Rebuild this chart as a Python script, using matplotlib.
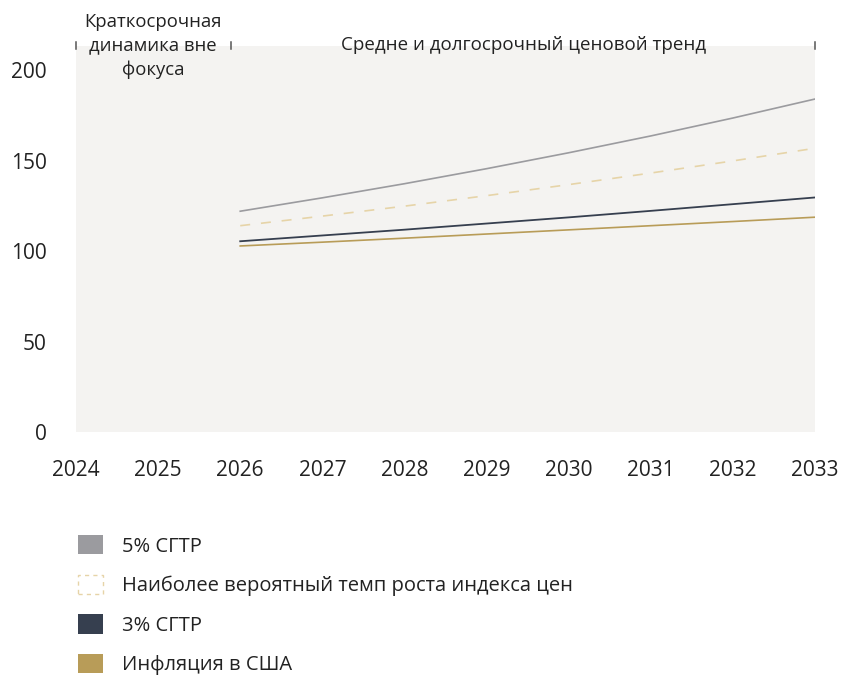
import matplotlib
matplotlib.use("Agg")
import matplotlib.pyplot as plt
from matplotlib.patches import Patch

plt.rcParams['font.family'] = ['Open Sans', 'DejaVu Sans']

years = [2026, 2027, 2028, 2029, 2030, 2031, 2032, 2033]
cgtr5 = [122.0, 129.4, 137.2, 145.5, 154.3, 163.6, 173.5, 184.0]
likely = [114.0, 119.3, 124.8, 130.6, 136.7, 143.1, 149.8, 156.8]
cgtr3 = [105.4, 108.6, 111.8, 115.2, 118.6, 122.2, 125.9, 129.6]
infl = [102.8, 104.9, 107.1, 109.4, 111.7, 114.0, 116.3, 118.7]

xticks = list(range(2024, 2034))
yticks = [0, 50, 100, 150, 200]
labels = ["5% СГТР", "Наиболее вероятный темп роста индекса цен", "3% СГТР", "Инфляция в США"]
zone_labels = ["Краткосрочная\nдинамика вне\nфокуса", "Средне и долгосрочный ценовой тренд"]

c5 = "#9b9b9f"
cl = "#e6d4a8"
c3 = "#363f4f"
ci = "#b89c58"
bg = "#f4f3f1"
txt = "#222222"

fig = plt.figure(figsize=(8.42, 6.76), dpi=100)
ax = fig.add_axes([76/842, 1-432/676, (815-76)/842, (432-46)/676])
ax.set_facecolor(bg)
for s in ax.spines.values():
    s.set_visible(False)

ax.plot(years, cgtr5, color=c5, lw=1.2)
ax.plot(years, likely, color=cl, lw=1.2, dashes=(6, 6.5))
ax.plot(years, cgtr3, color=c3, lw=1.3)
ax.plot(years, infl, color=ci, lw=1.2)

ymax = 213.3
ax.set_xlim(2024, 2033)
ax.set_ylim(0, ymax)
ax.set_xticks(xticks)
ax.set_yticks(yticks)
ax.tick_params(length=0, labelsize=15, colors=txt)
ax.tick_params(axis='x', pad=20)
ax.tick_params(axis='y', pad=21)

# zone brackets
for xm in [2024, 2025.89, 2033]:
    ax.plot([xm, xm], [ymax - 1.8, ymax + 2.3], color="#555555", lw=1.1, clip_on=False)
ax.text(2024.94, ymax, zone_labels[0], ha='center', va='center', fontsize=13.3,
        color=txt, linespacing=1.38)
ax.text(2029.45, ymax + 0.5, zone_labels[1], ha='center', va='center', fontsize=13.5,
        color=txt)

handles = [
    Patch(facecolor=c5, edgecolor='none'),
    Patch(facecolor='white', edgecolor=cl, linestyle=(0, (3, 3)), linewidth=1.0),
    Patch(facecolor=c3, edgecolor='none'),
    Patch(facecolor=ci, edgecolor='none'),
]
leg = fig.legend(handles, labels, loc='upper left', bbox_to_anchor=(70/842, 1-527/676),
                 frameon=False, fontsize=14.5, handlelength=1.25, handleheight=1.1,
                 handletextpad=0.95, labelspacing=0.9, borderaxespad=0)
for t in leg.get_texts():
    t.set_color(txt)

fig.savefig("out.png", dpi=100)
